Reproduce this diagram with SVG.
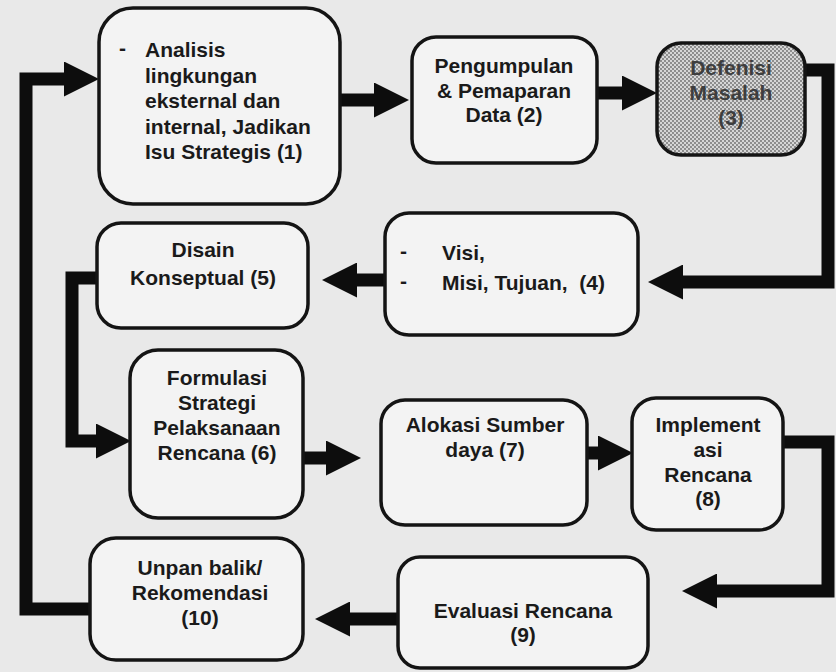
<svg xmlns="http://www.w3.org/2000/svg" width="836" height="672" viewBox="0 0 836 672">
  <defs>
    <style>
      .box { fill: #f3f3f3; stroke: #141414; stroke-width: 3.5; }
      .shaded { fill: url(#stipple); stroke: #141414; stroke-width: 3.5; }
      .lbl { font-family: "Liberation Sans", Arial, sans-serif; font-weight: bold; font-size: 21px; fill: #1a1a1a; }
      .mid { text-anchor: middle; }
      .faded { fill: #3e3e3e; }
      .wire { fill: none; stroke: #0d0d0d; stroke-width: 13; stroke-linejoin: miter; stroke-linecap: butt; }
    </style>
    <!-- dot screen used for the highlighted step -->
    <pattern id="stipple" width="4" height="4" patternUnits="userSpaceOnUse">
      <rect width="4" height="4" fill="#d6d6d6"/>
      <circle cx="1" cy="1" r="0.9" fill="#6a6a6a"/>
      <circle cx="3" cy="3" r="0.9" fill="#6a6a6a"/>
    </pattern>
    <marker id="head" markerUnits="userSpaceOnUse" viewBox="0 0 35 35" markerWidth="35" markerHeight="35" refX="0" refY="17.5" orient="auto">
      <path d="M0,0 L35,17.5 L0,35 Z" fill="#0d0d0d"/>
    </marker>
  </defs>

  <rect width="836" height="672" fill="#e9e9e9"/>

  <!-- connectors -->
  <g id="connectors">
    <path class="wire" d="M340,100 H374" marker-end="url(#head)"/>
    <path class="wire" d="M597,93 H622" marker-end="url(#head)"/>
    <path class="wire" d="M805,70 H828 V282 H683" marker-end="url(#head)"/>
    <path class="wire" d="M385,280 H357" marker-end="url(#head)"/>
    <path class="wire" d="M97,278 H72 V441 H96" marker-end="url(#head)"/>
    <path class="wire" d="M303,458 H326" marker-end="url(#head)"/>
    <path class="wire" d="M587,453 H598" marker-end="url(#head)"/>
    <path class="wire" d="M783,442 H828 V591 H717" marker-end="url(#head)"/>
    <path class="wire" d="M398,619 H350" marker-end="url(#head)"/>
    <path class="wire" d="M90,609 H26 V79 H64" marker-end="url(#head)"/>
  </g>

  <!-- step 1 -->
  <g id="node1">
    <rect class="box" x="99" y="8" width="241" height="196" rx="34"/>
    <text class="lbl" x="119" y="55">-</text>
    <text class="lbl" x="145" y="57">Analisis</text>
    <text class="lbl" x="145" y="83">lingkungan</text>
    <text class="lbl" x="145" y="108">eksternal dan</text>
    <text class="lbl" x="145" y="134">internal, Jadikan</text>
    <text class="lbl" x="145" y="159">Isu Strategis (1)</text>
  </g>

  <!-- step 2 -->
  <g id="node2">
    <rect class="box" x="412" y="37" width="185" height="126" rx="24"/>
    <text class="lbl mid" x="504" y="73">Pengumpulan</text>
    <text class="lbl mid" x="504" y="98">&amp; Pemaparan</text>
    <text class="lbl mid" x="504" y="122">Data (2)</text>
  </g>

  <!-- step 3 -->
  <g id="node3">
    <rect class="shaded" x="657" y="43" width="148" height="112" rx="24"/>
    <text class="lbl mid faded" x="731" y="75">Defenisi</text>
    <text class="lbl mid faded" x="731" y="100">Masalah</text>
    <text class="lbl mid faded" x="731" y="125">(3)</text>
  </g>

  <!-- step 4 -->
  <g id="node4">
    <rect class="box" x="385" y="213" width="253" height="122" rx="24"/>
    <text class="lbl" x="400" y="258">-</text>
    <text class="lbl" x="442" y="260">Visi,</text>
    <text class="lbl" x="400" y="288">-</text>
    <text class="lbl" x="442" y="290">Misi, Tujuan,&#160; (4)</text>
  </g>

  <!-- step 5 -->
  <g id="node5">
    <rect class="box" x="97" y="223" width="211" height="105" rx="24"/>
    <text class="lbl mid" x="203" y="257">Disain</text>
    <text class="lbl mid" x="203" y="285">Konseptual (5)</text>
  </g>

  <!-- step 6 -->
  <g id="node6">
    <rect class="box" x="130" y="350" width="173" height="168" rx="28"/>
    <text class="lbl mid" x="217" y="385">Formulasi</text>
    <text class="lbl mid" x="217" y="410">Strategi</text>
    <text class="lbl mid" x="217" y="435">Pelaksanaan</text>
    <text class="lbl mid" x="217" y="460">Rencana (6)</text>
  </g>

  <!-- step 7 -->
  <g id="node7">
    <rect class="box" x="381" y="400" width="206" height="125" rx="24"/>
    <text class="lbl mid" x="485" y="432">Alokasi Sumber</text>
    <text class="lbl mid" x="485" y="457">daya (7)</text>
  </g>

  <!-- step 8 -->
  <g id="node8">
    <rect class="box" x="632" y="398" width="151" height="132" rx="24"/>
    <text class="lbl mid" x="708" y="432">Implement</text>
    <text class="lbl mid" x="708" y="457">asi</text>
    <text class="lbl mid" x="708" y="482">Rencana</text>
    <text class="lbl mid" x="708" y="506">(8)</text>
  </g>

  <!-- step 9 -->
  <g id="node9">
    <rect class="box" x="398" y="557" width="250" height="111" rx="22"/>
    <text class="lbl mid" x="523" y="618">Evaluasi Rencana</text>
    <text class="lbl mid" x="523" y="642">(9)</text>
  </g>

  <!-- step 10 -->
  <g id="node10">
    <rect class="box" x="90" y="538" width="213" height="122" rx="26"/>
    <text class="lbl mid" x="200" y="575">Unpan balik/</text>
    <text class="lbl mid" x="200" y="600">Rekomendasi</text>
    <text class="lbl mid" x="200" y="625">(10)</text>
  </g>
</svg>
